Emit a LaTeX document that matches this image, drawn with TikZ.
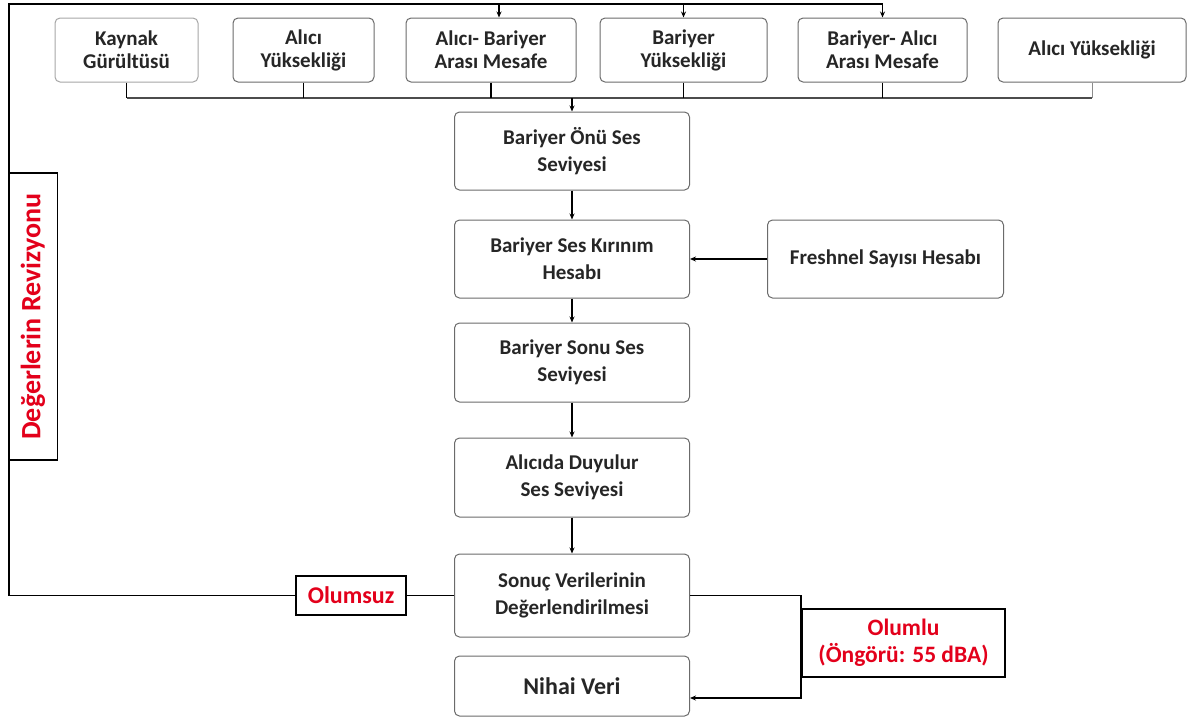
\documentclass[tikz,border=0pt]{standalone}
\usepackage{fontspec}
\setmainfont{Carlito}
\usetikzlibrary{positioning,arrows.meta,calc}
\definecolor{crojo}{HTML}{E3001B}
\definecolor{cborde}{HTML}{6B6B6B}
\definecolor{ctexto}{HTML}{262626}
\tikzset{
  cajaa/.style={rectangle, rounded corners=5pt, draw=cborde, line width=1pt, fill=white,
    align=center, inner sep=0pt, minimum height=64pt, text=ctexto,
    font=\fontsize{21}{23}\selectfont\bfseries},
  cajap/.style={cajaa, minimum width=235pt, minimum height=79pt,
    font=\fontsize{21}{27}\selectfont\bfseries},
  cajar/.style={rectangle, draw=black, line width=1.8pt, fill=white, align=center,
    inner sep=0pt, text=crojo, font=\fontsize{24}{27}\selectfont\bfseries},
  flecha/.style={-{Stealth[length=6pt,width=5pt]}, line width=1.8pt, draw=black},
  linea/.style={line width=1.8pt, draw=black},
  barra/.style={line width=2.8pt, draw=black!70},
}
\begin{document}
\begin{tikzpicture}[x=1pt, y=-1pt]
  \useasboundingbox (0,0) rectangle (1195,716);
  % fila de parametros
  \node[cajaa, minimum width=143pt, draw=black!35] (kaynak) at (126.5,50) {Kaynak\\Gürültüsü};
  \node[cajaa, minimum width=141pt] (alici1) at (303.5,50) {Alıcı\\Yüksekliği};
  \node[cajaa, minimum width=170pt] (abmesafe) at (491,50) {Alıcı- Bariyer\\Arası Mesafe};
  \node[cajaa, minimum width=167pt] (byuk) at (683.5,50) {Bariyer\\Yüksekliği};
  \node[cajaa, minimum width=169pt] (bamesafe) at (882.5,50) {Bariyer- Alıcı\\Arası Mesafe};
  \node[cajaa, minimum width=188pt] (alici2) at (1092,50) {Alıcı Yüksekliği};
  % columna principal
  \node[cajap, minimum height=78pt] (onu) at (572,151) {Bariyer Önü Ses\\Seviyesi};
  \node[cajap, minimum height=78pt, below=29pt of onu] (kirinim) {Bariyer Ses Kırınım\\Hesabı};
  \node[cajap, below=24pt of kirinim] (sonu) {Bariyer Sonu Ses\\Seviyesi};
  \node[cajap, below=35pt of sonu] (duyulur) {Alıcıda Duyulur\\Ses Seviyesi};
  \node[cajap, minimum height=83pt, below=36pt of duyulur] (sonuc) {Sonuç Verilerinin\\Değerlendirilmesi};
  \node[cajap, minimum height=60pt, below=18pt of sonuc, font=\fontsize{24}{27}\selectfont\bfseries] (nihai) {Nihai Veri};
  \node[cajap, minimum width=236pt, minimum height=78pt, right=77pt of kirinim] (fresnel) {Freshnel Sayısı Hesabı};
  % cajas de decision
  \node[cajar, minimum width=110pt, minimum height=39pt, left=47pt of sonuc] (olumsuz) {Olumsuz};
  \node[cajar, minimum width=203pt, minimum height=68pt, font=\fontsize{23.5}{27}\selectfont\bfseries] (olumlu) at (903.5,643) {Olumlu\\(Öngörü: 55 dBA)};
  \node[cajar, rotate=90, minimum width=287pt, minimum height=49pt, font=\fontsize{28}{31}\selectfont\bfseries] (revizyon) at (33,316.5) {Değerlerin Revizyonu};
  \coordinate (bus) at (572,98);
  \coordinate (esq) at (9,4);
  \coordinate (t3) at (499,4);
  \coordinate (kol) at (801,698);
  % colector
  \draw[barra] (kaynak.south |- bus) -- (alici2.south |- bus);
  \foreach \n in {kaynak,alici1,abmesafe,byuk,bamesafe}
    \draw[linea] (\n.south) -- (\n.south |- bus);
  \draw[line width=0.9pt, draw=black!45] (alici2.south) -- (alici2.south |- bus);
  \draw[flecha] (bus) -- (onu);
  \draw[flecha] (onu) -- (kirinim); \draw[flecha] (kirinim) -- (sonu);
  \draw[flecha] (sonu) -- (duyulur); \draw[flecha] (duyulur) -- (sonuc);
  \draw[flecha] (fresnel) -- (kirinim);
  % lazo de revision
  \draw[linea] (sonuc.west) -- (olumsuz.east);
  \draw[linea] (olumsuz.west) -| (esq) -- (bamesafe.north |- esq);
  \draw[flecha] (t3) -- (t3 |- abmesafe.north);
  \draw[flecha] (byuk.north |- esq) -- (byuk.north);
  \draw[flecha] (bamesafe.north |- esq) -- (bamesafe.north);
  \draw[flecha] (sonuc.east) -| (kol) -- (kol -| nihai.east);
\end{tikzpicture}
\end{document}
